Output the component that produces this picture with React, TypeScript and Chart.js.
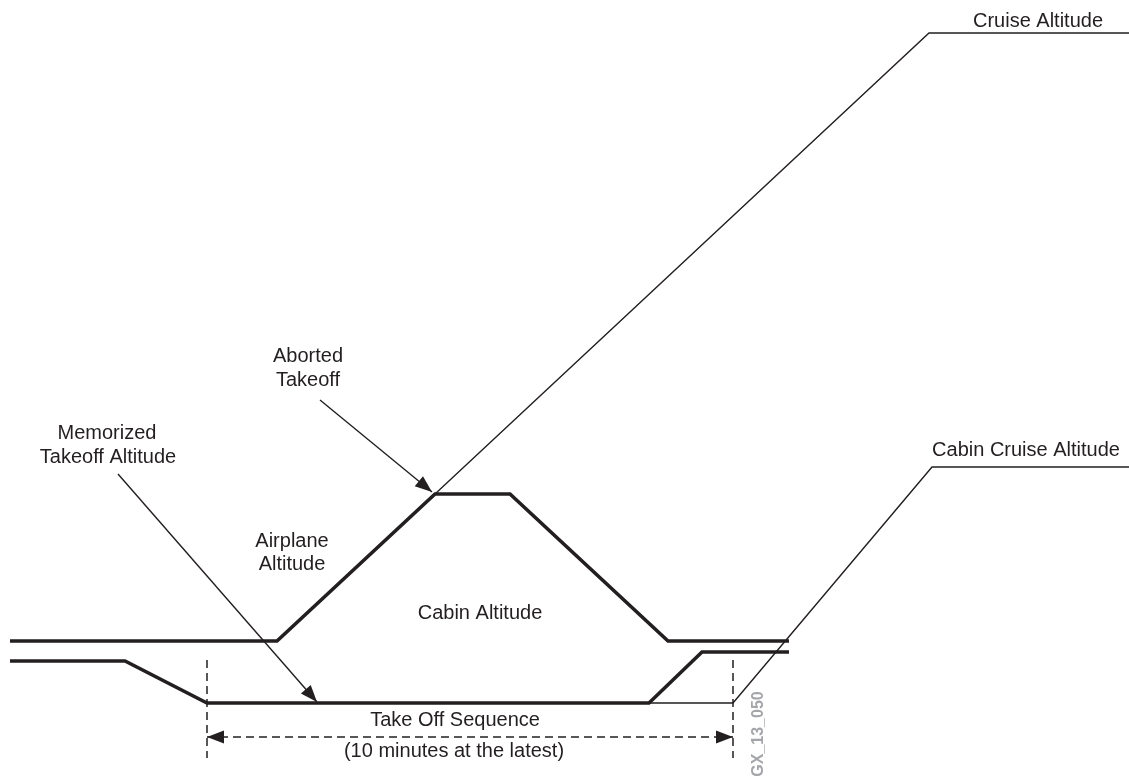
import React, { useEffect, useRef } from "react";
import { Chart, registerables } from "chart.js";

Chart.register(...registerables);

// Diagram coordinates (x: left→right, y: top→bottom in diagram units)
const airplaneX = [10, 277, 435, 510, 668, 789];
const airplaneY = [641, 641, 494, 494, 641, 641];

const cabinX = [10, 125, 207, 649, 702, 789];
const cabinY = [661, 661, 703, 703, 652, 652];

const cabinCruiseX = [649, 733, 932, 1129];
const cabinCruiseY = [703, 703, 467, 467];

const cruiseX = [435, 929, 1129];
const cruiseY = [494, 33, 33];

const memorizedArrowX = [118, 317];
const memorizedArrowY = [474, 702];

const abortedArrowX = [320, 432];
const abortedArrowY = [400, 492];

const seqStartX = [207, 207];
const seqEndX = [733, 733];
const seqVertY = [660, 758];
const seqArrowX = [207, 733];
const seqArrowY = [737, 737];

const labelTexts = [
  "Cruise Altitude",
  "Cabin Cruise Altitude",
  "Aborted",
  "Takeoff",
  "Memorized",
  "Takeoff Altitude",
  "Airplane",
  "Altitude",
  "Cabin Altitude",
  "Take Off Sequence",
  "(10 minutes at the latest)",
];
const labelX = [1038, 1026, 308, 308, 107, 108, 292, 292, 480, 455, 454];
const labelY = [27, 456, 362, 386, 439, 463, 547, 570, 619, 726, 757];

const codeLabel = "GX_13_050";
const codeX = 759;
const codeY = 734;

const INK = "#231f20";

const pts = (xs: number[], ys: number[]) => xs.map((x, i) => ({ x, y: ys[i] }));

export default function App() {
  const ref = useRef<HTMLCanvasElement | null>(null);

  useEffect(() => {
    if (!ref.current) return;

    const lineDs = (xs: number[], ys: number[], width: number, dash: number[] = []) => ({
      data: pts(xs, ys),
      showLine: true,
      borderColor: INK,
      backgroundColor: INK,
      borderWidth: width,
      borderDash: dash,
      borderJoinStyle: "miter" as const,
      borderCapStyle: "butt" as const,
      pointRadius: 0,
      pointHoverRadius: 0,
      fill: false,
      tension: 0,
    });

    const drawHead = (ctx: CanvasRenderingContext2D, tx: number, ty: number, fx: number, fy: number) => {
      const ang = Math.atan2(ty - fy, tx - fx);
      const len = 17;
      const half = 6.5;
      ctx.save();
      ctx.translate(tx, ty);
      ctx.rotate(ang);
      ctx.beginPath();
      ctx.moveTo(0, 0);
      ctx.lineTo(-len, -half);
      ctx.lineTo(-len, half);
      ctx.closePath();
      ctx.fillStyle = INK;
      ctx.fill();
      ctx.restore();
    };

    const overlay = {
      id: "overlay",
      afterDatasetsDraw(chart: any) {
        const ctx: CanvasRenderingContext2D = chart.ctx;
        const sx = chart.scales.x;
        const sy = chart.scales.y;
        const px = (v: number) => sx.getPixelForValue(v);
        const py = (v: number) => sy.getPixelForValue(v);

        // arrow heads
        drawHead(ctx, px(memorizedArrowX[1]), py(memorizedArrowY[1]), px(memorizedArrowX[0]), py(memorizedArrowY[0]));
        drawHead(ctx, px(abortedArrowX[1]), py(abortedArrowY[1]), px(abortedArrowX[0]), py(abortedArrowY[0]));
        drawHead(ctx, px(seqArrowX[0]), py(seqArrowY[0]), px(seqArrowX[1]), py(seqArrowY[1]));
        drawHead(ctx, px(seqArrowX[1]), py(seqArrowY[1]), px(seqArrowX[0]), py(seqArrowY[0]));

        // labels
        ctx.save();
        ctx.fillStyle = INK;
        ctx.font = '20px "Liberation Sans", Arial, sans-serif';
        ctx.textAlign = "center";
        ctx.textBaseline = "alphabetic";
        labelTexts.forEach((t, i) => {
          ctx.fillText(t, px(labelX[i]), py(labelY[i]));
        });
        ctx.restore();

        // figure code
        ctx.save();
        ctx.translate(px(codeX), py(codeY));
        ctx.rotate(-Math.PI / 2);
        ctx.fillStyle = "#a3a5a8";
        ctx.font = 'bold 16px "Liberation Sans", Arial, sans-serif';
        ctx.textAlign = "center";
        ctx.textBaseline = "middle";
        ctx.fillText(codeLabel, 0, 0);
        ctx.restore();
      },
    };

    const chart = new Chart(ref.current, {
      type: "scatter",
      data: {
        datasets: [
          lineDs(cruiseX, cruiseY, 1.4),
          lineDs(cabinCruiseX, cabinCruiseY, 1.4),
          lineDs(memorizedArrowX, memorizedArrowY, 1.4),
          lineDs(abortedArrowX, abortedArrowY, 1.4),
          lineDs(seqStartX, seqVertY, 1.5, [8, 5]),
          lineDs(seqEndX, seqVertY, 1.5, [8, 5]),
          lineDs(seqArrowX, seqArrowY, 1.5, [8, 5]),
          lineDs(airplaneX, airplaneY, 3.6),
          lineDs(cabinX, cabinY, 3.6),
        ] as any,
      },
      options: {
        responsive: false,
        animation: false,
        events: [],
        layout: { padding: 0 },
        plugins: {
          legend: { display: false },
          tooltip: { enabled: false },
          title: { display: false },
        },
        scales: {
          x: { type: "linear", min: 0, max: 1129, display: false },
          y: { type: "linear", min: 0, max: 778, reverse: true, display: false },
        },
      },
      plugins: [overlay],
    });

    return () => chart.destroy();
  }, []);

  return (
    <div style={{ position: "absolute", left: 0, top: 0, width: 1129, height: 778, background: "#fff" }}>
      <canvas ref={ref} width={1129} height={778} style={{ display: "block", width: 1129, height: 778 }} />
    </div>
  );
}
